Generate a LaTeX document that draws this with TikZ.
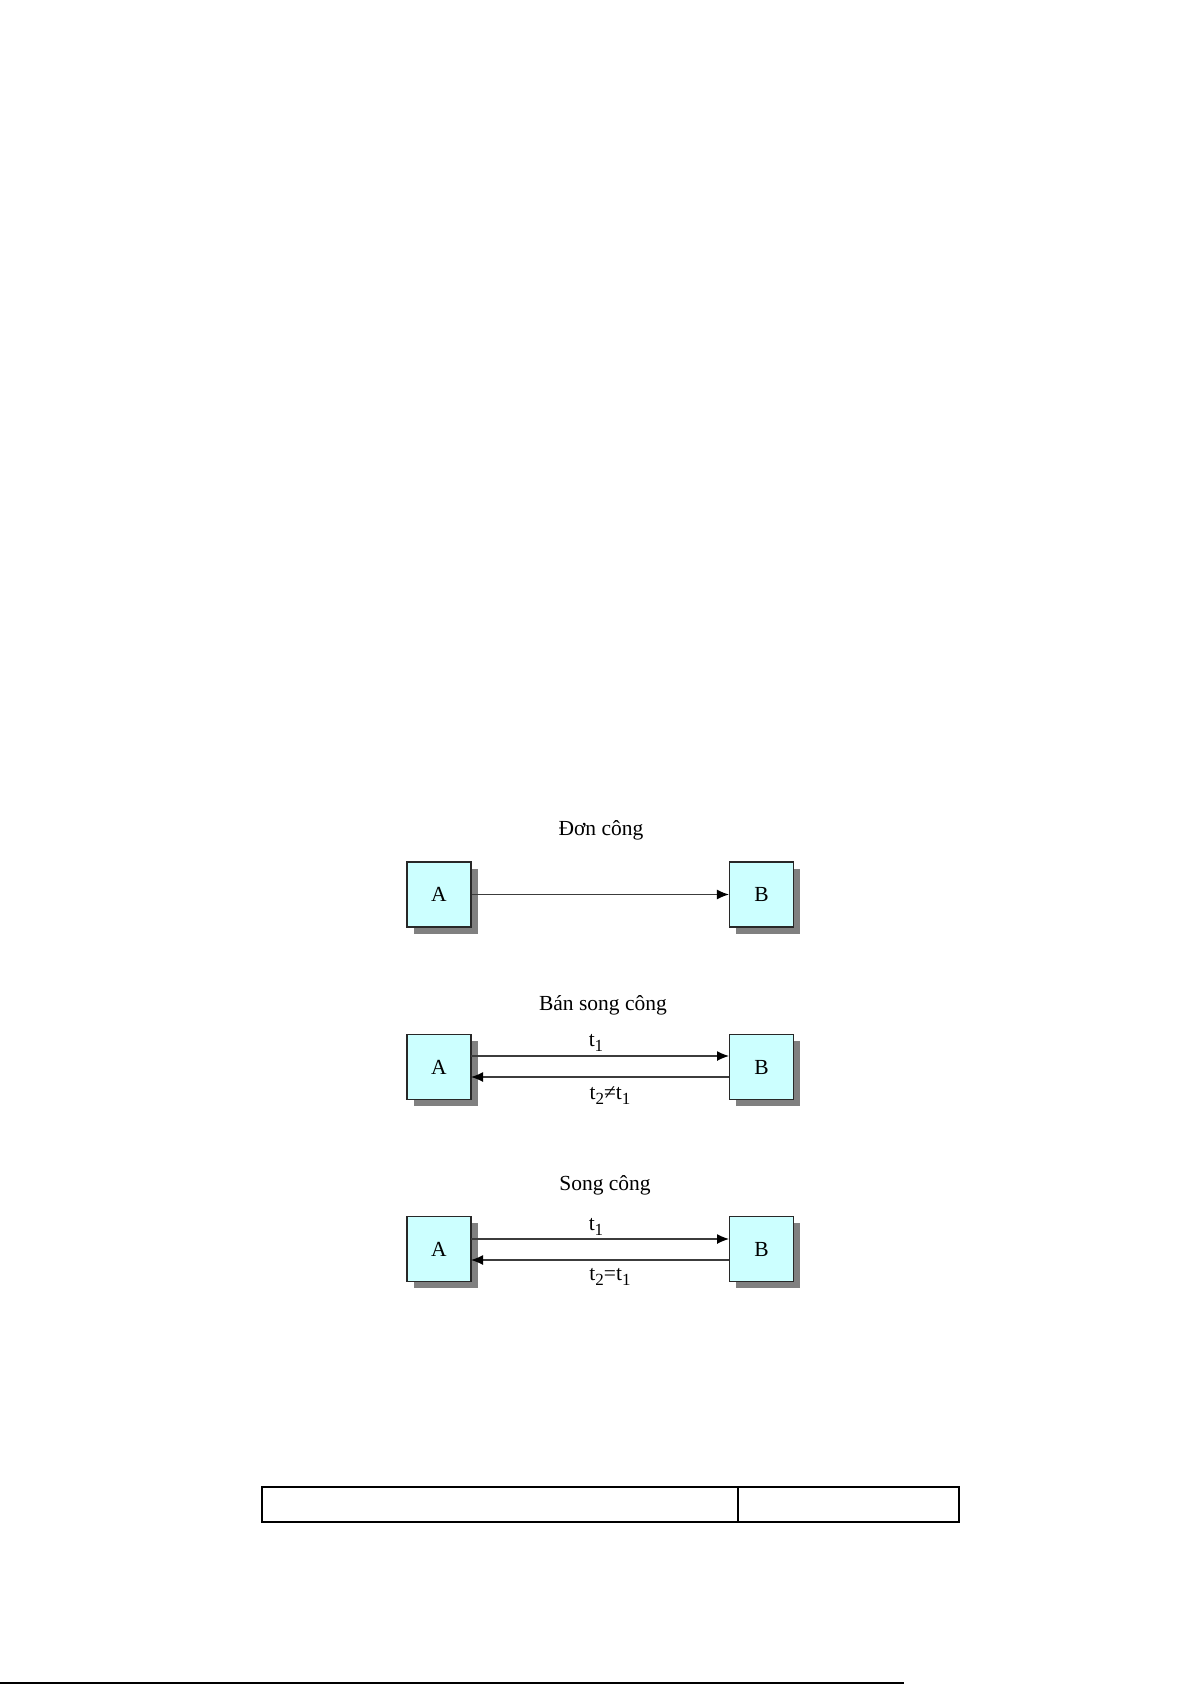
\documentclass[tikz,border=0pt]{standalone}
\usepackage{fontspec}
\setmainfont{Liberation Serif}
\usetikzlibrary{arrows.meta,shadows}
\definecolor{boxfill}{RGB}{204,255,255}
\definecolor{boxdraw}{RGB}{40,40,40}
\definecolor{linecol}{RGB}{60,60,60}
\newcommand{\mysub}[1]{\raisebox{-5pt}{\fontsize{17}{20}\selectfont #1}}
\begin{document}
\begin{tikzpicture}[x=1pt,y=-1pt,
  font=\fontsize{21.5}{25}\selectfont,
  box/.style={draw=boxdraw, line width=1.1pt, fill=boxfill, minimum width=64pt, minimum height=65pt, inner sep=0pt,
    drop shadow={shadow xshift=6.5pt, shadow yshift=-6.5pt, fill=black!50, opacity=1}},
  conn/.style={draw=linecol, line width=1.3pt, -{Latex[length=12pt,width=10pt,color=black]}},
  title/.style={inner sep=0pt, anchor=center},
  lbl/.style={inner sep=0pt, anchor=center},
  tbl/.style={draw=black, line width=1.4pt}]
\useasboundingbox (0,0) rectangle (1192,1684);
\fill[white] (0,0) rectangle (1192,1684);

% Row 1: Don cong
\node[title] (t1) at (601,830) {Đơn công};
\node[box] (a1) at (439,894.5) {A};
\node[box] (b1) at (761.5,894.5) {B};
\draw[conn] (a1.east) -- (b1.west);

% Row 2: Ban song cong
\node[title] (t2) at (603,1005) {Bán song công};
\node[box] (a2) at (439,1067) {A};
\node[box] (b2) at (761.5,1067) {B};
\coordinate (a2t) at (471,1056);
\coordinate (b2t) at (729,1056);
\coordinate (a2b) at (471,1077);
\coordinate (b2b) at (729,1077);
\draw[conn] (a2t) -- (b2t);
\draw[conn] (b2b) -- (a2b);
\node[lbl] (l21) at (596,1043) {t\mysub{1}};
\node[lbl] (l22) at (610,1096) {t\mysub{2}≠t\mysub{1}};

% Row 3: Song cong
\node[title] (t3) at (605,1185) {Song công};
\node[box] (a3) at (439,1249) {A};
\node[box] (b3) at (761.5,1249) {B};
\coordinate (a3t) at (471,1239);
\coordinate (b3t) at (729,1239);
\coordinate (a3b) at (471,1260);
\coordinate (b3b) at (729,1260);
\draw[conn] (a3t) -- (b3t);
\draw[conn] (b3b) -- (a3b);
\node[lbl] (l31) at (596,1227) {t\mysub{1}};
\node[lbl] (l32) at (610,1277) {t\mysub{2}=t\mysub{1}};

% Footer table
\draw[tbl] (262,1487) rectangle (959,1522);
\draw[tbl] (738,1487) -- (738,1522);

% Bottom rule
\draw[black, line width=1.5pt] (0,1683) -- (904,1683);
\end{tikzpicture}
\end{document}
